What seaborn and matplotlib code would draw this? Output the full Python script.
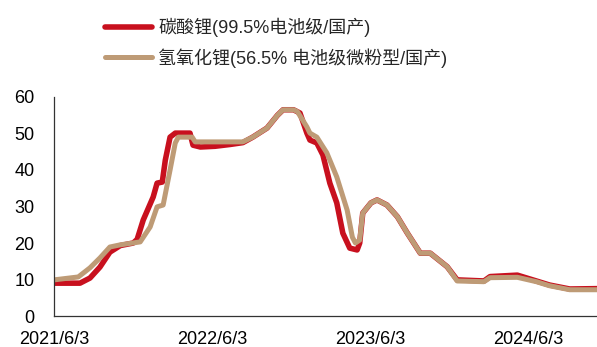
import pandas as pd
import matplotlib.pyplot as plt
import seaborn as sns

# 碳酸锂 (99.5% 电池级/国产), 万元/吨
li2co3_dates = ["2021-06-03", "2021-08-02", "2021-08-25", "2021-09-17", "2021-10-10",
                "2021-11-03", "2021-12-03", "2021-12-12", "2021-12-26", "2022-01-18",
                "2022-01-27", "2022-02-08", "2022-02-15", "2022-02-26", "2022-03-10",
                "2022-04-13", "2022-04-20", "2022-05-07", "2022-06-10", "2022-07-15",
                "2022-08-13", "2022-09-05", "2022-10-08", "2022-11-01", "2022-11-14",
                "2022-12-08", "2022-12-23", "2023-01-08", "2023-01-15", "2023-01-31",
                "2023-02-14", "2023-03-02", "2023-03-18", "2023-04-01", "2023-04-17",
                "2023-05-04", "2023-05-10", "2023-05-17", "2023-06-05", "2023-06-19",
                "2023-07-12", "2023-08-05", "2023-08-28", "2023-09-27", "2023-10-20",
                "2023-11-28", "2023-12-21", "2024-02-21", "2024-03-06", "2024-05-08",
                "2024-06-21", "2024-07-21", "2024-09-06", "2024-11-08"]
li2co3_vals = [9.0, 9.0, 10.4, 13.4, 17.5,
               19.3, 20.0, 21.0, 26.3, 32.6,
               36.4, 36.7, 42.7, 49.0, 50.1,
               50.1, 46.8, 46.3, 46.5, 47.0,
               47.5, 49.0, 51.5, 55.0, 56.5,
               56.5, 55.6, 50.1, 48.2, 47.4,
               44.1, 36.4, 31.0, 22.7, 18.6,
               18.1, 20.0, 28.2, 31.0, 31.8,
               30.4, 27.2, 22.7, 17.2, 17.2,
               13.5, 9.9, 9.6, 10.8, 11.2,
               9.6, 8.5, 7.4, 7.5]

# 氢氧化锂 (56.5% 电池级微粉型/国产)
lioh_dates = ["2021-06-03", "2021-07-29", "2021-08-25", "2021-09-17", "2021-10-10",
              "2021-11-03", "2021-12-19", "2022-01-11", "2022-01-27", "2022-02-10",
              "2022-02-26", "2022-03-10", "2022-03-17", "2022-04-18", "2022-04-25",
              "2022-08-13", "2022-09-05", "2022-10-08", "2022-11-01", "2022-11-14",
              "2022-12-08", "2022-12-17", "2023-01-08", "2023-01-15", "2023-01-31",
              "2023-02-23", "2023-03-18", "2023-04-11", "2023-04-23", "2023-04-30",
              "2023-05-10", "2023-05-17", "2023-06-05", "2023-06-19", "2023-07-12",
              "2023-08-05", "2023-08-28", "2023-09-27", "2023-10-20", "2023-11-28",
              "2023-12-21", "2024-02-21", "2024-03-06", "2024-05-08", "2024-06-21",
              "2024-07-21", "2024-09-06", "2024-11-08"]
lioh_vals = [9.9, 10.7, 13.2, 15.9, 18.9,
             19.5, 20.3, 24.4, 29.9, 30.4,
             40.0, 47.4, 49.0, 49.0, 47.7,
             47.7, 49.0, 51.5, 55.0, 56.5,
             56.5, 56.0, 51.8, 50.1, 49.0,
             44.7, 38.1, 29.0, 21.6, 20.0,
             20.8, 28.2, 31.0, 31.8, 30.4,
             27.2, 22.7, 17.2, 17.2, 13.5,
             9.6, 9.4, 10.5, 10.6, 9.4,
             8.3, 7.2, 7.2]

labels = ["碳酸锂(99.5%电池级/国产)", "氢氧化锂(56.5% 电池级微粉型/国产)"]
tick_dates = ["2021-06-03", "2022-06-03", "2023-06-03", "2024-06-03"]
tick_labels = ["2021/6/3", "2022/6/3", "2023/6/3", "2024/6/3"]

sns.set_style("white")
plt.rcParams["font.family"] = ["Liberation Sans", "Noto Sans CJK SC", "DejaVu Sans"]

df1 = pd.DataFrame({"date": pd.to_datetime(li2co3_dates), "v": li2co3_vals})
df2 = pd.DataFrame({"date": pd.to_datetime(lioh_dates), "v": lioh_vals})

fig = plt.figure(figsize=(5.97, 3.47), dpi=100)
ax = fig.add_axes([0.0905, 0.0893, 0.9095, 0.6312])

sns.lineplot(data=df1, x="date", y="v", ax=ax, color="#C8101E", linewidth=4.0,
             label=labels[0], solid_joinstyle="round", solid_capstyle="round")
sns.lineplot(data=df2, x="date", y="v", ax=ax, color="#BE9B76", linewidth=3.6,
             label=labels[1], solid_joinstyle="round", solid_capstyle="round")

ax.set_xlim(pd.Timestamp("2021-06-03"), pd.Timestamp("2024-11-08"))
ax.set_ylim(0, 60)
ax.set_yticks([0, 10, 20, 30, 40, 50, 60])
ax.set_xticks(pd.to_datetime(tick_dates))
ax.set_xticklabels(tick_labels)
ax.set_xlabel("")
ax.set_ylabel("")

for s in ["top", "right"]:
    ax.spines[s].set_visible(False)
for s in ["left", "bottom"]:
    ax.spines[s].set_color("#333333")
    ax.spines[s].set_linewidth(0.9)
ax.tick_params(axis="both", direction="in", length=5, width=0.9, color="#333333",
               labelsize=13, labelcolor="black")
ax.tick_params(axis="y", pad=14)
ax.tick_params(axis="x", pad=11)

ax.get_legend().remove()
h, l = ax.get_legend_handles_labels()
fig.legend(h, l, loc="upper left", bbox_to_anchor=(0.155, 0.985), frameon=False,
           fontsize=13, handlelength=2.6, handletextpad=0.35, labelspacing=0.6,
           borderpad=0.2)

fig.savefig("out.png", dpi=100)
